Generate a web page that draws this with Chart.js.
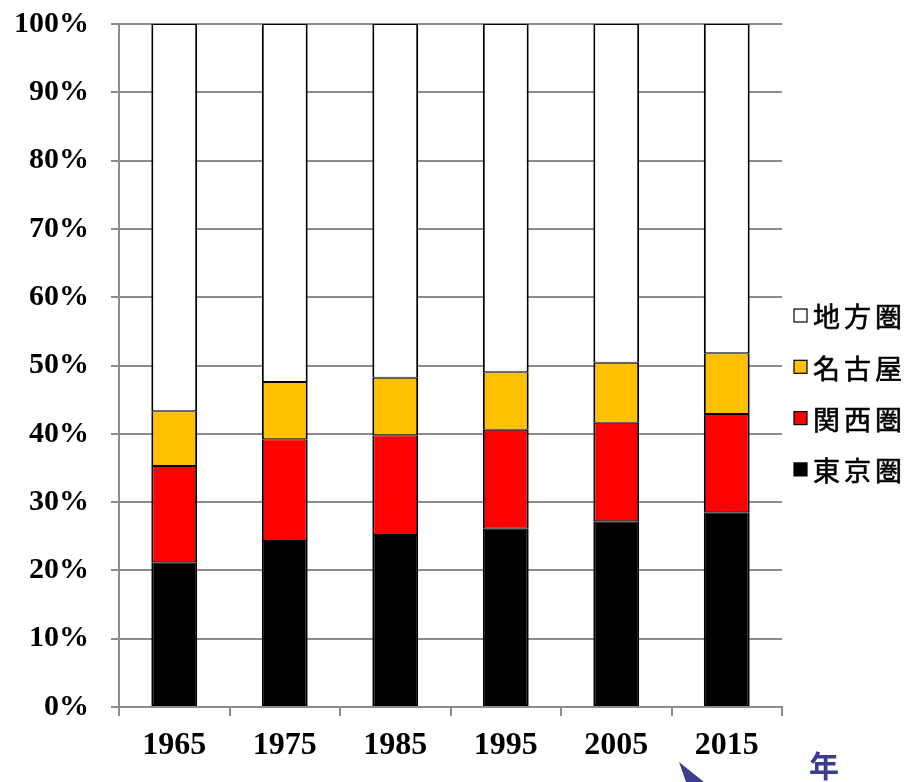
<!DOCTYPE html>
<html>
<head>
<meta charset="utf-8">
<style>
  html, body { margin: 0; padding: 0; background: #fff; }
  #wrap { position: relative; width: 910px; height: 782px; }
  canvas { display: block; }
</style>
<script src="https://cdn.jsdelivr.net/npm/chart.js@4/dist/chart.umd.min.js"></script>
</head>
<body>
<div id="wrap"><canvas id="c" width="910" height="782"></canvas></div>
<script>
// Share of population by region (%)
const years = ['1965', '1975', '1985', '1995', '2005', '2015'];
const tokyo   = [21.2, 24.3, 25.2, 26.1, 27.2, 28.5];
const kansai  = [14.1, 14.9, 14.6, 14.5, 14.4, 14.4];
const nagoya  = [ 8.0,  8.4,  8.4,  8.4,  8.8,  8.9];
const chihou  = [56.7, 52.4, 51.8, 51.0, 49.6, 48.2];
const yTicks  = [0, 10, 20, 30, 40, 50, 60, 70, 80, 90, 100];

const serifFamily = '"Liberation Serif", "Times New Roman", serif';
const cjkFont = '"Noto Sans CJK JP", "Noto Sans", sans-serif';

// Legend on the right, listed top to bottom in stack order (top segment first)
const sideLegend = {
  id: 'sideLegend',
  afterDraw(chart) {
    const ctx = chart.ctx;
    const items = chart.data.datasets.map(d => ({ label: d.label, color: d.backgroundColor })).reverse();
    ctx.save();
    ctx.font = '27px ' + cjkFont;
    ctx.textBaseline = 'middle';
    ctx.textAlign = 'left';
    items.forEach((it, i) => {
      const y = 316 + i * 51.3;
      ctx.fillStyle = it.color;
      ctx.fillRect(794, y - 7, 13, 13);
      ctx.strokeStyle = '#000';
      ctx.lineWidth = 1.2;
      ctx.strokeRect(794, y - 7, 13, 13);
      ctx.fillStyle = '#000';
      if ('letterSpacing' in ctx) ctx.letterSpacing = '4px';
      ctx.fillText(it.label, 813, y + 1);
      ctx.lineWidth = 0.6;
      ctx.strokeText(it.label, 813, y + 1);
      if ('letterSpacing' in ctx) ctx.letterSpacing = '0px';
    });
    // axis caption and pointer
    ctx.fillStyle = '#3a3e8c';
    ctx.font = 'bold 30px ' + cjkFont;
    ctx.textAlign = 'center';
    ctx.fillText('年', 824, 766);
    ctx.beginPath();
    ctx.moveTo(679, 762);
    ctx.lineTo(704, 782);
    ctx.lineTo(686, 782);
    ctx.closePath();
    ctx.fill();
    ctx.restore();
  }
};

const ds = (label, data, color) => ({
  label, data,
  backgroundColor: color,
  borderColor: '#000',
  borderWidth: { top: 1, bottom: 1, left: 2, right: 2 },
  borderSkipped: false,
  categoryPercentage: 1,
  barPercentage: 0.415
});

new Chart(document.getElementById('c'), {
  type: 'bar',
  data: {
    labels: years,
    datasets: [
      ds('東京圏', tokyo, '#000000'),
      ds('関西圏', kansai, '#ff0000'),
      ds('名古屋', nagoya, '#ffc000'),
      ds('地方圏', chihou, '#ffffff')
    ]
  },
  options: {
    responsive: false,
    animation: false,
    layout: { padding: { top: 24, right: 128, left: 0, bottom: 0 } },
    plugins: { legend: { display: false }, tooltip: { enabled: false } },
    scales: {
      x: {
        stacked: true,
        grid: { offset: true, drawOnChartArea: false, drawTicks: true, tickLength: 9, color: '#8c8c8c', lineWidth: 2 },
        border: { color: '#8c8c8c', width: 2 },
        ticks: { color: '#000', font: { family: serifFamily, size: 32, weight: 'bold' }, padding: 11 },
        afterFit(s) { s.height = 75; s.paddingLeft = 0; s.paddingRight = 0; }
      },
      y: {
        stacked: true,
        min: 0, max: 100,
        afterBuildTicks(s) { s.ticks = yTicks.map(v => ({ value: v })); },
        grid: { color: '#8c8c8c', lineWidth: 2, tickLength: 8 },
        border: { color: '#8c8c8c', width: 2 },
        ticks: { color: '#000', font: { family: serifFamily, size: 30, weight: 'bold' }, padding: 22, callback: v => v + '%' },
        afterFit(s) { s.width = 119; s.paddingTop = 0; s.paddingBottom = 0; }
      }
    }
  },
  plugins: [sideLegend]
});
</script>
</body>
</html>
